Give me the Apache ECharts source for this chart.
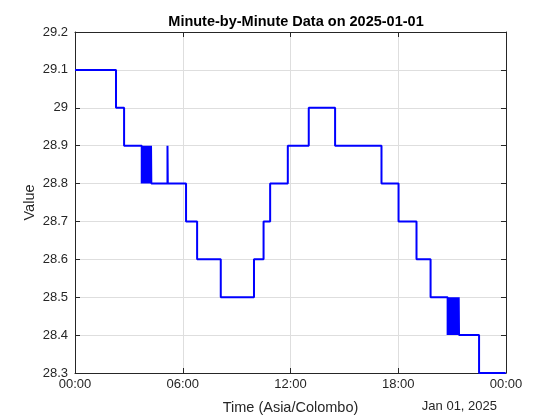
<!DOCTYPE html>
<html>
<head>
<meta charset="utf-8">
<script src="https://cdn.jsdelivr.net/npm/echarts@6/dist/echarts.min.js"></script>
<style>html,body{margin:0;padding:0;background:#fff}#c{width:560px;height:420px}</style>
</head>
<body>
<div id="c"></div>
<script>
// Minutes since 00:00 (Asia/Colombo) where the reading changes level, and the new level
const levelMinutes = [0, 137, 164, 255, 309, 310, 371, 408, 487, 598, 630, 652, 711, 781, 869, 1024, 1081, 1141, 1188, 1284, 1350, 1439];
const levelValues  = [29.1, 29.0, 28.9, 28.8, 28.9, 28.8, 28.7, 28.6, 28.5, 28.6, 28.7, 28.8, 28.9, 29.0, 28.9, 28.8, 28.7, 28.6, 28.5, 28.4, 28.3, 28.3];
// Rapid flicker around 03:43-04:15
const burst1Minutes = [223,224,225,226,227,228,229,230,231,232,233,234,235,236,237,238,239,240,241,242,243,244,245,246,247,248,249,250,251,252,253,254];
const burst1Values  = [28.8,28.9,28.8,28.9,28.8,28.9,28.8,28.9,28.8,28.9,28.8,28.9,28.8,28.9,28.8,28.9,28.8,28.9,28.8,28.9,28.8,28.9,28.8,28.9,28.8,28.9,28.8,28.9,28.8,28.9,28.8,28.9];
// Rapid flicker around 20:45-21:23
const burst2Minutes = [1245,1246,1247,1248,1249,1250,1251,1252,1253,1254,1255,1256,1257,1258,1259,1260,1261,1262,1263,1264,1265,1266,1267,1268,1269,1270,1271,1272,1273,1274,1275,1276,1277,1278,1279,1280,1281,1282,1283];
const burst2Values  = [28.4,28.5,28.4,28.5,28.4,28.5,28.4,28.5,28.4,28.5,28.4,28.5,28.4,28.5,28.4,28.5,28.4,28.5,28.4,28.5,28.4,28.5,28.4,28.5,28.4,28.5,28.4,28.5,28.4,28.5,28.4,28.5,28.4,28.5,28.4,28.5,28.4,28.5,28.4];
const xTickLabels = ['00:00', '06:00', '12:00', '18:00', '00:00'];
const yMin = 28.3, yMax = 29.2, yStep = 0.1;

const pts = [];
levelMinutes.forEach((m, i) => pts.push([m, levelValues[i]]));
burst1Minutes.forEach((m, i) => pts.push([m, burst1Values[i]]));
burst2Minutes.forEach((m, i) => pts.push([m, burst2Values[i]]));
pts.sort((a, b) => a[0] - b[0]);

const FONT = 'Liberation Sans, Arial, Helvetica, sans-serif';
const AX = '#262626';
const GRID = '#dedede';

const chart = echarts.init(document.getElementById('c'), null, {renderer: 'canvas'});
const xCommon = {type: 'value', min: 0, max: 1440, interval: 360};
const yCommon = {type: 'value', min: yMin, max: yMax, interval: yStep};
chart.setOption({
  animation: false,
  backgroundColor: '#fff',
  title: {
    text: 'Minute-by-Minute Data on 2025-01-01',
    left: 291, top: 9, textAlign: 'center',
    textStyle: {fontFamily: FONT, fontSize: 14.5, fontWeight: 'bold', color: '#000'}
  },
  grid: {left: 75, right: 54, top: 32, bottom: 46, containLabel: false},
  xAxis: [
    Object.assign({}, xCommon, {
      position: 'bottom',
      name: 'Time (Asia/Colombo)', nameLocation: 'middle', nameGap: 27, nameMoveOverlap: false,
      nameTextStyle: {fontFamily: FONT, fontSize: 14.5, color: AX},
      axisLine: {show: true, onZero: false, lineStyle: {color: AX, width: 1}},
      axisTick: {show: true, inside: true, length: 5, lineStyle: {color: AX}},
      axisLabel: {fontFamily: FONT, fontSize: 13, color: AX, margin: 5,
        formatter: v => xTickLabels[Math.round(v / 360)]},
      splitLine: {show: true, lineStyle: {color: GRID, width: 1}}
    }),
    Object.assign({}, xCommon, {
      position: 'top',
      axisLine: {show: true, onZero: false, lineStyle: {color: AX, width: 1}},
      axisTick: {show: true, inside: true, length: 5, lineStyle: {color: AX}},
      axisLabel: {show: false}, splitLine: {show: false}
    })
  ],
  yAxis: [
    Object.assign({}, yCommon, {
      position: 'left',
      name: 'Value', nameLocation: 'middle', nameGap: 38, nameMoveOverlap: false,
      nameTextStyle: {fontFamily: FONT, fontSize: 14.5, color: AX},
      axisLine: {show: true, onZero: false, lineStyle: {color: AX, width: 1}},
      axisTick: {show: true, inside: true, length: 5, lineStyle: {color: AX}},
      axisLabel: {fontFamily: FONT, fontSize: 13, color: AX, margin: 7,
        formatter: v => String(parseFloat(v.toFixed(1)))},
      splitLine: {show: true, lineStyle: {color: GRID, width: 1}}
    }),
    Object.assign({}, yCommon, {
      position: 'right',
      axisLine: {show: true, onZero: false, lineStyle: {color: AX, width: 1}},
      axisTick: {show: true, inside: true, length: 5, lineStyle: {color: AX}},
      axisLabel: {show: false}, splitLine: {show: false}
    })
  ],
  graphic: [{
    type: 'text', right: 63, top: 400,
    style: {text: 'Jan 01, 2025', font: '13px ' + FONT, fill: AX}
  }],
  series: [{
    type: 'line', xAxisIndex: 0, yAxisIndex: 0,
    data: pts, step: 'end', showSymbol: false, symbol: 'none',
    lineStyle: {color: '#0000ff', width: 2},
    itemStyle: {color: '#0000ff'},
    clip: false
  }]
});
</script>
</body>
</html>
